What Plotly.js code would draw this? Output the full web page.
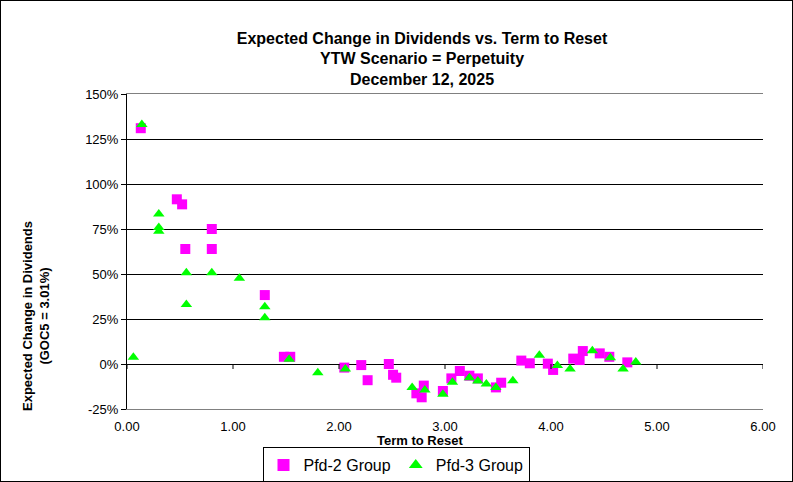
<!DOCTYPE html>
<html>
<head>
<meta charset="utf-8">
<script src="https://cdn.plot.ly/plotly-3.0.1.min.js"></script>
<style>
  html, body { margin: 0; padding: 0; background: #fff; }
  #wrap { position: relative; width: 793px; height: 482px; }
  #chart { width: 793px; height: 482px; }
  #frame { position: absolute; left: 0; top: 0; width: 791px; height: 480px; border: 1px solid #000; pointer-events: none; }
</style>
</head>
<body>
<div id="wrap"><div id="chart"></div><div id="frame"></div></div>
<script>
const titleLines = ["Expected Change in Dividends vs. Term to Reset", "YTW Scenario = Perpetuity", "December 12, 2025"];
const xTitle = "Term to Reset";
const yTitleLines = ["Expected Change in Dividends", "(GOC5 = 3.01%)"];
const seriesNames = ["Pfd-2 Group", "Pfd-3 Group"];
const xTicks = [0, 1, 2, 3, 4, 5, 6];
const yTicks = [-25, 0, 25, 50, 75, 100, 125, 150];

const pfd2X = [0.13, 0.47, 0.52, 0.80, 0.55, 0.80, 1.30, 1.48, 1.54, 2.05, 2.21, 2.27, 2.47, 2.51, 2.54, 2.73, 2.78, 2.80, 2.98, 3.06, 3.14, 3.23, 3.31, 3.48, 3.53, 3.72, 3.80, 3.97, 4.02, 4.21, 4.27, 4.30, 4.46, 4.55, 4.72];
const pfd2Y = [131, 91.5, 88.7, 75, 63.9, 63.9, 38.3, 4, 4, -2, -0.6, -9, 0, -6, -7.6, -16.3, -18.5, -12, -15, -8, -3.9, -6.5, -8, -13, -10.4, 1.9, 0.4, 0.2, -3.3, 3, 2.2, 7.2, 5.9, 4, 0.9];

const pfd3X = [0.06, 0.14, 0.30, 0.30, 0.30, 0.56, 0.56, 0.80, 1.06, 1.30, 1.30, 1.53, 1.80, 2.06, 2.69, 2.81, 2.98, 3.07, 3.23, 3.31, 3.39, 3.48, 3.64, 3.89, 4.06, 4.18, 4.39, 4.56, 4.68, 4.80];
const pfd3Y = [3.7, 133, 83.3, 75.8, 73.8, 50.7, 33.1, 50.7, 47.6, 31.8, 25.7, 2.6, -4.8, -2.8, -13, -14.4, -16.8, -10.2, -7.6, -9.4, -11.1, -13, -9.3, 4.8, -0.9, -2.8, 7.4, 3.5, -2.8, 1.1];

const FONT = "Arial, 'Liberation Sans', sans-serif";

const traces = [
  { type: 'scatter', mode: 'markers', name: seriesNames[0], x: pfd2X, y: pfd2Y,
    marker: { symbol: 'square', size: 10, color: '#FF00FF', line: { width: 0 } } },
  { type: 'scatter', mode: 'markers', name: seriesNames[1], x: pfd3X, y: pfd3Y,
    marker: { symbol: 'triangle-up', size: 10, color: '#00FF00', line: { width: 0 } } }
];

const tickShapes = xTicks.map(v => ({
  type: 'line', xref: 'x', yref: 'y', x0: v, x1: v,
  ysizemode: 'pixel', yanchor: 0, y0: -5, y1: 0,
  line: { color: '#000', width: 1 }
}));

const layout = {
  width: 793, height: 482,
  margin: { l: 127, r: 30, t: 94, b: 73, autoexpand: false },
  paper_bgcolor: '#fff', plot_bgcolor: '#fff',
  font: { family: FONT, size: 13, color: '#000' },
  title: { text: '<b>' + titleLines.join('<br>') + '</b>', x: 422 / 793, xanchor: 'center',
           y: 1 - 43.5 / 482, yanchor: 'middle', yref: 'container',
           font: { family: FONT, size: 16, color: '#000' } },
  showlegend: true,
  legend: { orientation: 'h', x: (396 - 127) / 636, xanchor: 'center', y: (409 - 447) / 315, yanchor: 'top',
            bordercolor: '#000', borderwidth: 1, bgcolor: '#fff',
            font: { family: FONT, size: 16, color: '#000' }, itemsizing: 'constant' },
  xaxis: { range: [0, 6], tickvals: xTicks, tickformat: '.2f', showgrid: false, zeroline: false,
           showline: true, linecolor: '#808080', linewidth: 1, mirror: true,
           ticks: 'outside', ticklen: 5, tickcolor: 'rgba(0,0,0,0)',
           tickfont: { family: FONT, size: 13, color: '#000' }, fixedrange: true },
  yaxis: { range: [-25, 150], tickvals: yTicks, ticktext: yTicks.map(v => v + '%'),
           showgrid: true, gridcolor: '#000', gridwidth: 1,
           zeroline: false, showline: true, linecolor: '#000', linewidth: 1,
           ticks: 'outside', ticklen: 5, tickcolor: '#000',
           tickfont: { family: FONT, size: 13, color: '#000' }, fixedrange: true },
  shapes: tickShapes,
  annotations: [
    { text: '<b>' + xTitle + '</b>', xref: 'paper', yref: 'paper', x: (420 - 127) / 636, y: (409 - 440) / 315,
      xanchor: 'center', yanchor: 'middle', showarrow: false, font: { family: FONT, size: 13, color: '#000' } },
    { text: '<b>' + yTitleLines.join('<br>') + '</b>', xref: 'paper', yref: 'paper', x: (36 - 127) / 636, y: (409 - 316) / 315,
      xanchor: 'center', yanchor: 'middle', textangle: -90, showarrow: false, font: { family: FONT, size: 13, color: '#000' } }
  ]
};

Plotly.newPlot('chart', traces, layout, { displayModeBar: false, staticPlot: true });
</script>
</body>
</html>
